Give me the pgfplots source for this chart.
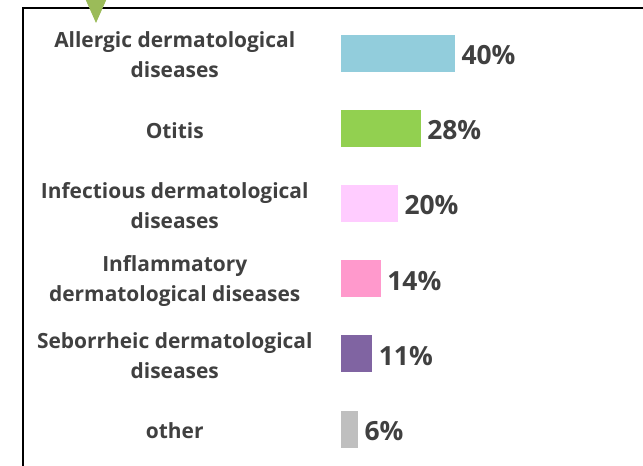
\documentclass[border=0pt]{standalone}
\usepackage{pgfplots}
\pgfplotsset{compat=1.18}
\usepackage{fontspec}
\setmainfont{Open Sans}
\definecolor{txt}{HTML}{404040}
\definecolor{cA}{HTML}{92CDDC}
\definecolor{cB}{HTML}{92D050}
\definecolor{cC}{HTML}{FFCCFF}
\definecolor{cD}{HTML}{FF99CC}
\definecolor{cE}{HTML}{8064A2}
\definecolor{cF}{HTML}{BFBFBF}
\definecolor{tri}{HTML}{9BBB59}
\begin{document}
\begin{tikzpicture}
\useasboundingbox (0bp,0bp) rectangle (643bp,466bp);
\clip (0bp,0bp) rectangle (643bp,466bp);
\fill[white] (0bp,0bp) rectangle (643bp,466bp);
\draw[line width=1.8bp] (23bp,-20bp) rectangle (700bp,458bp);
\fill[tri] (84bp,470bp) -- (108bp,470bp) -- (96bp,443bp) -- cycle;
\begin{axis}[
  at={(341bp,-0.6bp)}, anchor=south west, scale only axis,
  width=285bp, height=451.2bp,
  xmin=0, xmax=100, ymin=-0.5, ymax=5.5, y dir=reverse,
  axis line style={draw=none}, tick style={draw=none},
  xtick=\empty, ytick={0,1,2,3,4,5},
  yticklabels={{Allergic dermatological\\diseases},{Otitis},{Infectious dermatological\\diseases},{Inflammatory\\dermatological diseases},{Seborrheic dermatological\\diseases},{other}},
  yticklabel style={font=\bfseries\fontsize{21}{30}\selectfont, text=txt, align=center, anchor=center, xshift=-162bp, yshift=-2bp},
  xbar, bar width=37bp,
  nodes near coords={\pgfmathprintnumber[assume math mode=true]{\pgfplotspointmeta}\%},
  nodes near coords style={font=\bfseries\fontsize{26.5}{30}\selectfont, text=txt, anchor=west, xshift=3bp, yshift=-2bp},
  every axis plot/.append style={bar shift=0pt, draw=none},
  clip=false,
]
\addplot[fill=cA] coordinates {(40,0)};
\addplot[fill=cB] coordinates {(28,1)};
\addplot[fill=cC] coordinates {(20,2)};
\addplot[fill=cD] coordinates {(14,3)};
\addplot[fill=cE] coordinates {(11,4)};
\addplot[fill=cF] coordinates {(6,5)};
\end{axis}
\end{tikzpicture}
\end{document}
